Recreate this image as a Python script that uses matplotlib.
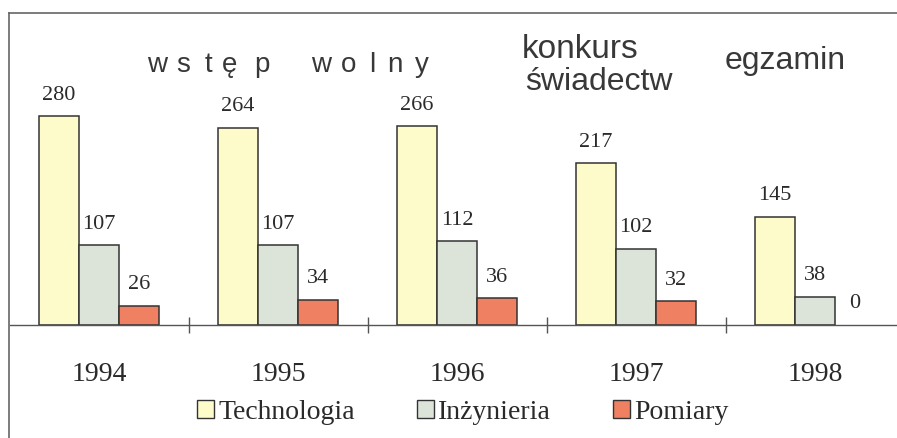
import matplotlib.pyplot as plt
import numpy as np
from matplotlib.patches import Patch
from matplotlib.lines import Line2D

years = ["1994", "1995", "1996", "1997", "1998"]
series = ["Technologia", "Inżynieria", "Pomiary"]
technologia = [280, 264, 266, 217, 145]
inzynieria = [107, 107, 112, 102, 38]
pomiary = [26, 34, 36, 32, 0]
colors = ["#fdfbc9", "#dce4d9", "#ef8061"]

W, H = 897, 439


def fx(x):
    return x / W


def fy(y):
    return 1 - y / H


serif = "Liberation Serif"
sans = "Liberation Sans"
txt = "#2a2a2a"
note = "#383838"

fig = plt.figure(figsize=(W / 100, H / 100), dpi=100)
fig.patch.set_facecolor("white")

ax = fig.add_axes([fx(9.5), fy(326), 895 / W, (326 - 14) / H])
ax.set_xlim(-0.5, 4.5)
ax.set_ylim(0, 418)

x = np.arange(len(years))
w = 40 / 179
for k, (vals, name, c) in enumerate(zip([technologia, inzynieria, pomiary], series, colors)):
    pos = x + (k - 1) * w
    lws = [1.1 if v > 0 else 0 for v in vals]
    ax.bar(pos, vals, width=w, color=c, edgecolor="#333333", linewidth=lws, label=name)
    for xp, v in zip(pos, vals):
        ax.annotate(str(v), (xp, v), xytext=(0, 9), textcoords="offset points",
                    ha="center", va="bottom", fontsize=16, family=serif, color=txt)

for s in ["top", "left", "right"]:
    ax.spines[s].set_visible(False)
ax.spines["bottom"].set_color("#555555")
ax.spines["bottom"].set_linewidth(1.0)
ax.set_yticks([])
ax.set_xticks(x)
ax.set_xticklabels(years, fontsize=20, family=serif, color=txt)
ax.tick_params(axis="x", which="major", length=0, pad=26)
ax.set_xticks(x[:-1] + 0.5, minor=True)
ax.tick_params(axis="x", which="minor", direction="inout", length=11, width=1, color="#555555")
ax.patch.set_alpha(0)

# frame lines (left and top)
fig.add_artist(Line2D([fx(9), fx(9)], [fy(14), 0], color="#666666", lw=1.2, transform=fig.transFigure))
fig.add_artist(Line2D([fx(9), 1], [fy(14), fy(14)], color="#666666", lw=1.2, transform=fig.transFigure))

# spaced-out "wstęp wolny" heading, letter by letter
letters = list("wstępwolny")
letter_x = [157, 183, 208, 230, 262, 321, 349, 372, 395, 422]
for ch, lx in zip(letters, letter_x):
    fig.text(fx(lx), fy(72), ch, ha="center", va="baseline",
             fontsize=20, family=sans, color=note)

fig.text(fx(522), fy(58), "konkurs", ha="left", va="baseline",
         fontsize=24, family=sans, color=note)
fig.text(fx(525), fy(90), "świadectw", ha="left", va="baseline",
         fontsize=23, family=sans, color=note)
fig.text(fx(785), fy(69), "egzamin", ha="center", va="baseline",
         fontsize=23, family=sans, color=note)

handles = [Patch(facecolor=c, edgecolor="#333333", linewidth=1.0) for c in colors]
fig.legend(handles, series, loc="center", bbox_to_anchor=(fx(463), fy(413)), ncol=3,
           frameon=False, prop={"family": serif, "size": 20}, handlelength=0.6,
           handleheight=0.6, handletextpad=0.15, columnspacing=2.25, labelcolor=txt)

plt.savefig("out.png", dpi=100)
